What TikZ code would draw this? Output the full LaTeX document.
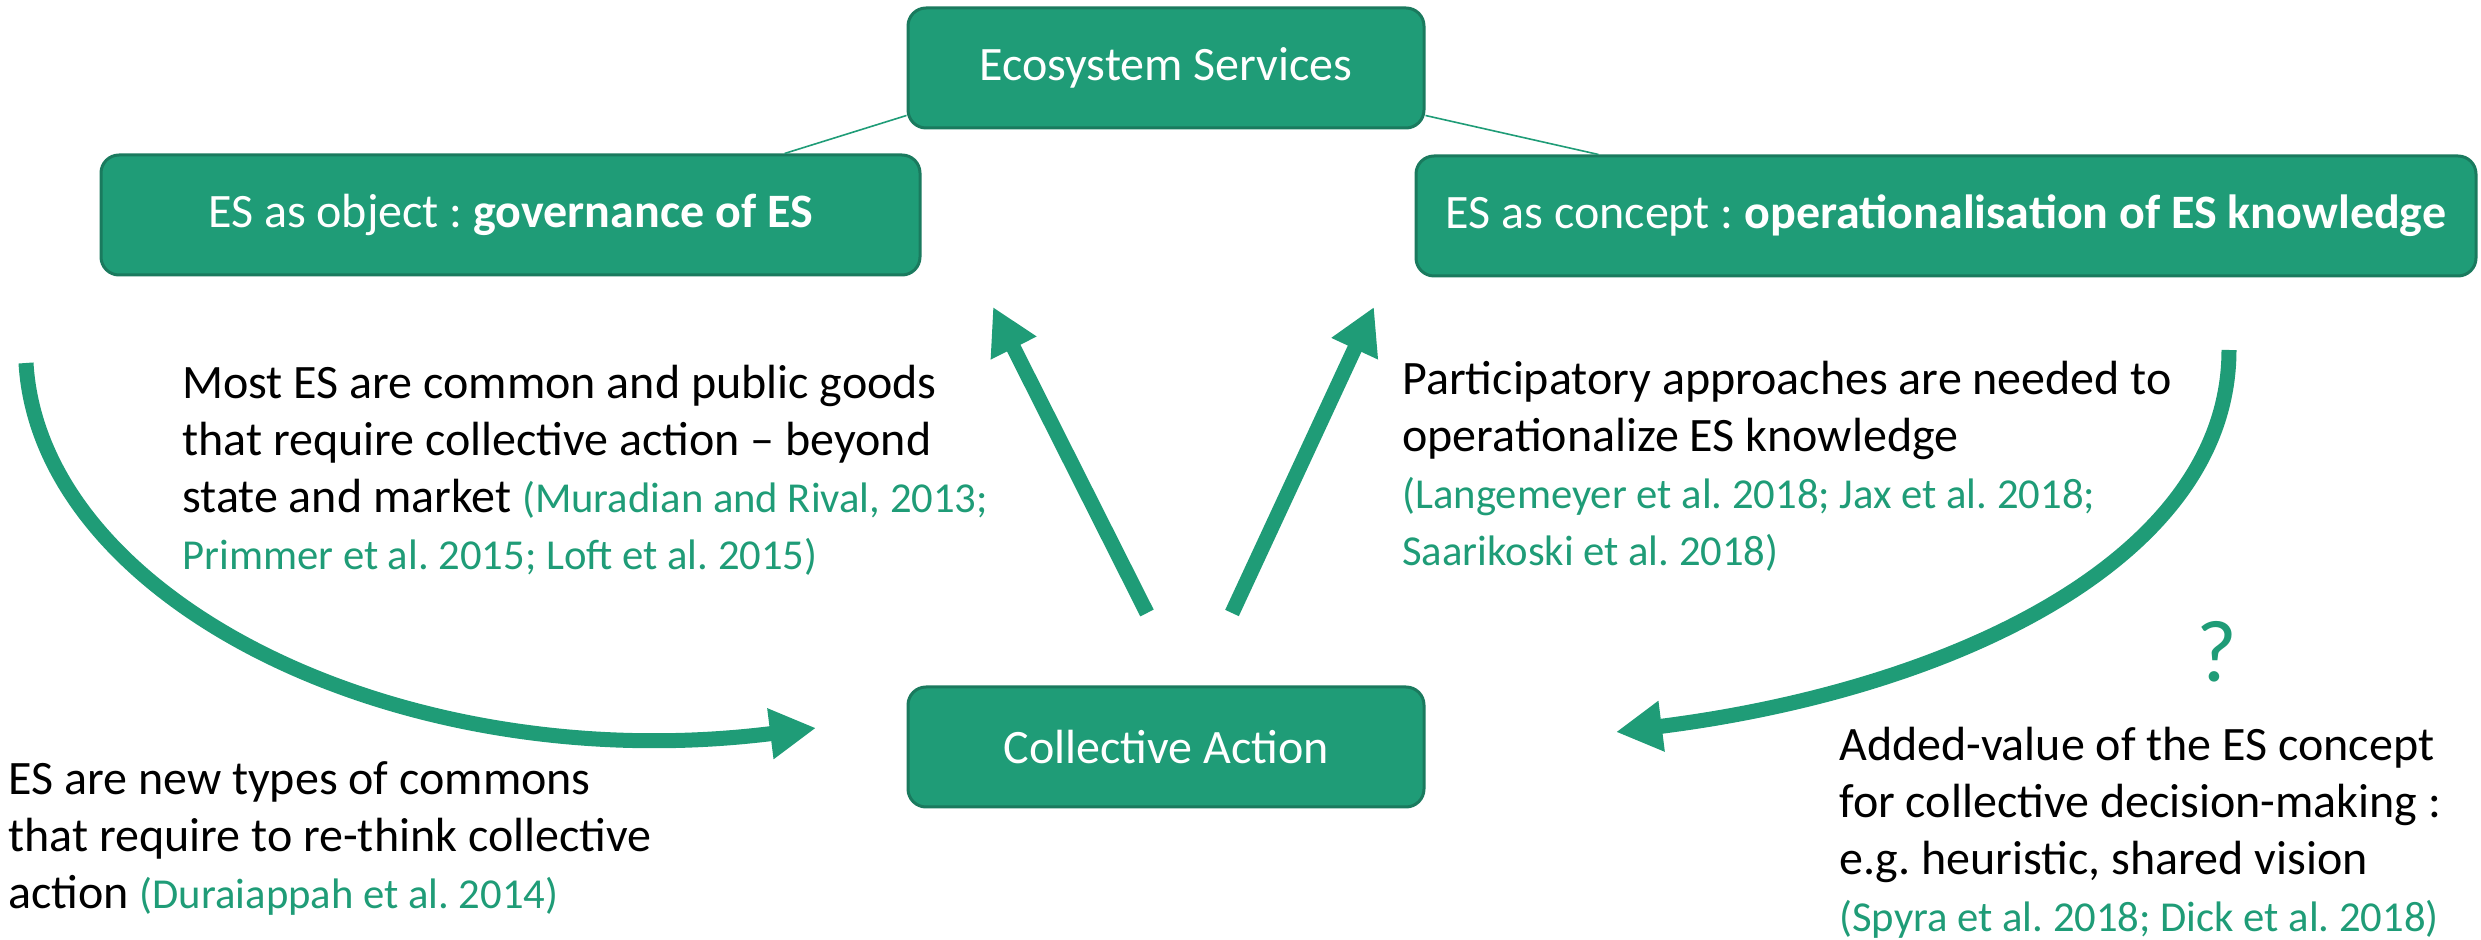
\documentclass[tikz,border=0pt]{standalone}
\usepackage{fontspec}
\setmainfont{Carlito}
\usetikzlibrary{arrows.meta}
\definecolor{esgreen}{HTML}{1F9C77}
\definecolor{esdark}{HTML}{1A7A5E}
\newcommand\refgreen[1]{{\fontsize{21.33}{28.5}\selectfont\color{esgreen}#1}}
\begin{document}
\frenchspacing
\begin{tikzpicture}[x=0.5pt,y=-0.5pt,
  box/.style={draw=esdark, line width=1.5pt, fill=esgreen, rounded corners=9pt, text=white,
    font=\fontsize{24}{28.5}\selectfont, minimum height=60pt, inner sep=0pt},
  body/.style={anchor=base west, align=left, inner sep=0pt, font=\fontsize{24}{28.5}\selectfont},
  bigarrow/.style={draw=esgreen, line width=7.5pt, -{Triangle[length=23pt,width=24pt]}},
  thinline/.style={draw=esgreen, line width=0.8pt}]
\useasboundingbox (0,0) rectangle (2481,940);

% boxes
\node[box, minimum width=258pt] (es) at (1166,68) {Ecosystem Services};
\node[box, minimum width=409.5pt] (obj) at (510.5,215) {ES as object : \textbf{governance of ES}};
\node[box, minimum width=530pt] (concept) at (1946,216) {ES as concept : \textbf{operationalisation of ES knowledge}};
\node[box, minimum width=258pt] (ca) at (1166,747) {Collective Action};

% thin connectors
\draw[thinline] ([yshift=7pt]es.south west) -- ([xshift=-68.5pt]obj.north east);
\draw[thinline] ([yshift=7pt]es.south east) -- ([xshift=92pt]concept.north west);

% straight arrows
\coordinate (a1s) at (1147,613);
\coordinate (a1e) at (993,307);
\coordinate (a2s) at (1232,613);
\coordinate (a2e) at (1374,307);
\draw[bigarrow] (a1s) -- (a1e);
\draw[bigarrow] (a2s) -- (a2e);

% curved arrows
\coordinate (c1s) at (26,363);
\coordinate (c1e) at (816,728);
\coordinate (c2s) at (2229,350);
\coordinate (c2e) at (1616,732);
\draw[bigarrow] (c1s) .. controls (40,600) and (400,780) .. (c1e);
\draw[bigarrow] (c2s) .. controls (2229,560) and (1950,690) .. (c2e);

% texts (anchored at the baseline of the last line)
\node[body] (t1) at (182,570) {Most ES are common and public goods\\that require collective action – beyond\\state and market \refgreen{(Muradian and Rival, 2013;}\\\refgreen{Primmer et al. 2015; Loft et al. 2015)}};
\node[body] (t2) at (1402,566) {Participatory approaches are needed to\\operationalize ES knowledge\\\refgreen{(Langemeyer et al. 2018; Jax et al. 2018;}\\\refgreen{Saarikoski et al. 2018)}};
\node[body] (t3) at (8,908) {ES are new types of commons\\that require to re-think collective\\action \refgreen{(Duraiappah et al. 2014)}};
\node[body] (t4) at (1839,931) {Added-value of the ES concept\\for collective decision-making :\\e.g. heuristic, shared vision\\\refgreen{(Spyra et al. 2018; Dick et al. 2018)}};
\node[anchor=base, inner sep=0pt, text=esgreen, font=\fontsize{44}{50}\selectfont] (q) at (2217,682) {?};
\end{tikzpicture}
\end{document}
